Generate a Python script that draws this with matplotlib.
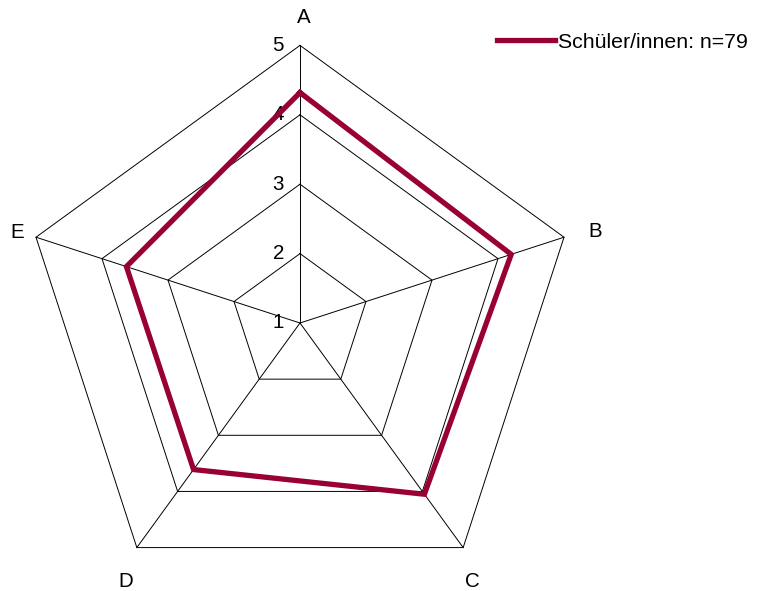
import numpy as np
import matplotlib
matplotlib.use("Agg")
import matplotlib.pyplot as plt

# Daten
categories = ["A", "B", "C", "D", "E"]
values = [4.32, 4.20, 4.05, 3.61, 3.63]
levels = [1, 2, 3, 4, 5]
series_label = "Schüler/innen: n=79"

line_color = "#990033"
grid_color = "#000000"
vmin = 1
fs = 14.8
fs_leg = 15.3

plt.rcParams["font.family"] = ["Liberation Sans", "DejaVu Sans"]

n = len(categories)
angles = np.pi / 2 - np.arange(n) * 2 * np.pi / n


def to_xy(vals):
    r = np.asarray(vals, dtype=float) - vmin
    return r * np.cos(angles), r * np.sin(angles)


fig = plt.figure(figsize=(7.63, 5.91), dpi=100)
ax = fig.add_axes([0, 0, 1, 1])

scale = 69.4  # px pro Einheit
cx, cy = 300, 323
ax.set_xlim(-cx / scale, (763 - cx) / scale)
ax.set_ylim(-(591 - cy) / scale, cy / scale)
ax.axis("off")

# Gitter (Fünfecke)
for lv in levels[1:]:
    x, y = to_xy([lv] * n)
    ax.plot(np.append(x, x[0]), np.append(y, y[0]), color=grid_color, lw=0.7)

# Speichen
xo, yo = to_xy([levels[-1]] * n)
for i in range(n):
    ax.plot([0, xo[i]], [0, yo[i]], color=grid_color, lw=0.7)

# Achsenbeschriftung (Werte)
for lv in levels:
    ax.text(-16 / scale, lv - vmin, str(lv), ha="right", va="center", fontsize=fs)

# Kategorien: Versatz vom äußeren Eckpunkt in Pixel
label_offsets = [(4, 28), (31, 6), (9, -34), (-11, -34), (-19, 5)]
for i, c in enumerate(categories):
    dx, dy = label_offsets[i]
    ax.annotate(c, (xo[i], yo[i]), xytext=(dx * 0.72, dy * 0.72),
                textcoords="offset points", ha="center", va="center", fontsize=fs)

# Datenreihe
x, y = to_xy(values)
ax.plot(np.append(x, x[0]), np.append(y, y[0]), color=line_color, lw=3.8,
        solid_joinstyle="miter", label=series_label, zorder=5)

leg = ax.legend(loc="center left", bbox_to_anchor=(497 / 763, 1 - 42 / 591),
                frameon=False, fontsize=fs_leg, handlelength=2.75,
                handletextpad=0.12, borderpad=0, borderaxespad=0)

fig.savefig("out.png", dpi=100)
